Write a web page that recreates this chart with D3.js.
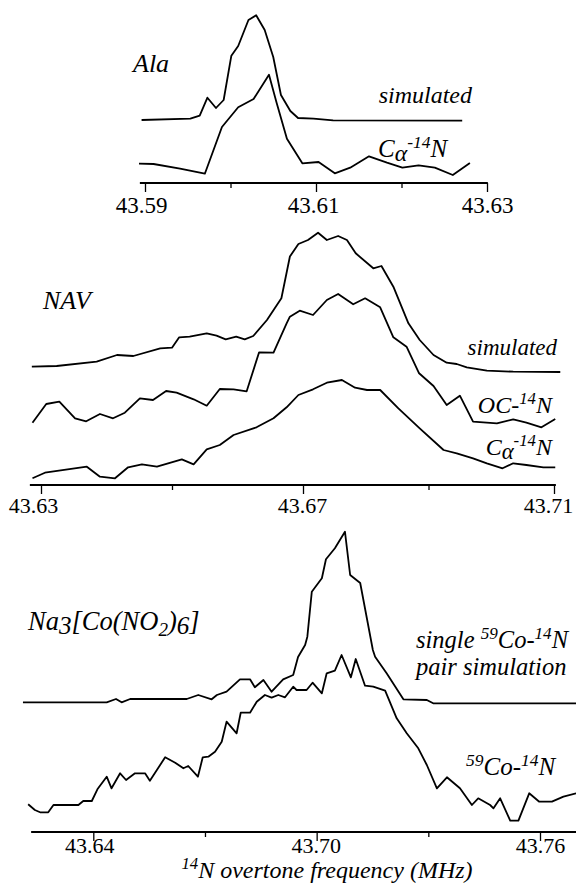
<!DOCTYPE html>
<html>
<head>
<meta charset="utf-8">
<script src="https://cdnjs.cloudflare.com/ajax/libs/d3/7.8.5/d3.min.js"></script>
<style>
  body { margin: 0; background: #fff; }
  svg text, svg tspan { font-family: "Liberation Serif", "DejaVu Serif", serif; fill: #000; }
</style>
</head>
<body>
<svg width="576" height="895"></svg>
<script>
// ---- data: [frequency MHz, intensity a.u.] ----
const alaSim = [[43.5896,63],[43.5953,64.3],[43.5964,67.3],[43.5973,85.3],[43.5983,75],[43.5992,83],
  [43.6001,127.3],[43.6009,137],[43.6021,163],[43.6030,167.7],[43.6040,153],[43.6050,126],[43.6059,88],
  [43.6070,72],[43.6079,65],[43.6097,64.3],[43.6120,62.7],[43.6271,62.3]];
const alaCa = [[43.5893,19.3],[43.5910,19],[43.5941,14.3],[43.5970,9.3],[43.5990,56],[43.6009,75.7],
  [43.6027,84],[43.6045,108.3],[43.6054,80],[43.6066,44.3],[43.6084,19.7],[43.6103,21],[43.6122,9.7],
  [43.6140,15.3],[43.6162,26.7],[43.6183,20.3],[43.6201,15.3],[43.6220,17.7],[43.6239,15.3],[43.6260,8],[43.6280,20]];

const navSim = [[43.6286,118.3],[43.6324,119],[43.6385,123.3],[43.6416,130],[43.6441,129],[43.6482,136.7],
  [43.6500,137.3],[43.6511,147.7],[43.6527,148.3],[43.6553,151.7],[43.6568,149.3],[43.6582,145.7],
  [43.6598,148.3],[43.6611,145.7],[43.6624,149],[43.6645,165],[43.6667,186.7],[43.6680,228.5],
  [43.6693,241],[43.6708,245],[43.6724,252.3],[43.6738,245],[43.6756,249],[43.6770,245],[43.6784,231.7],
  [43.6812,216.7],[43.6825,219],[43.6844,198.3],[43.6868,161.7],[43.6886,145],[43.6908,130],
  [43.6929,122.3],[43.6945,121],[43.6961,117.7],[43.6993,114.3],[43.7035,113.3],[43.7110,113]];
const navOC = [[43.6287,62.3],[43.6308,81],[43.6328,83.3],[43.6352,66.7],[43.6369,63.7],[43.6390,71],
  [43.6410,66.7],[43.6428,72.3],[43.6451,86.7],[43.6471,85],[43.6491,94],[43.6507,92.3],[43.6533,85.7],
  [43.6553,79.3],[43.6573,96],[43.6594,95.7],[43.6614,93.7],[43.6633,132.7],[43.6655,132.3],
  [43.6675,161.7],[43.6680,168.3],[43.6695,174.3],[43.6716,170],[43.6738,185],[43.6756,191],
  [43.6780,180.7],[43.6799,186.7],[43.6823,177.7],[43.6844,147.7],[43.6865,138.3],[43.6885,111.7],
  [43.6908,99],[43.6929,80],[43.6950,89.3],[43.6971,63.3],[43.7009,61.7],[43.7035,65.7],[43.7056,62.3],
  [43.7080,57.7],[43.7102,66]];
const navCa = [[43.6287,6.7],[43.6306,12.3],[43.6370,18.3],[43.6390,8.3],[43.6413,6.7],[43.6433,17.7],
  [43.6454,20.7],[43.6477,18.3],[43.6515,25.7],[43.6533,20.7],[43.6553,35.7],[43.6573,40],[43.6594,50],
  [43.6629,57.7],[43.6655,66.7],[43.6675,77.7],[43.6693,90],[43.6716,95.7],[43.6738,102.3],[43.6762,105],
  [43.6783,97.3],[43.6802,95],[43.6823,95],[43.6852,76.7],[43.6886,56.7],[43.6924,35],[43.6945,31.7],
  [43.6971,26.7],[43.6993,21.7],[43.7018,16.7],[43.7035,21.7],[43.7056,20],[43.7083,17.7],[43.7102,17.7]];

const coSim = [[43.6211,129.7],[43.6436,129.7],[43.6461,133],[43.6476,129.7],[43.6499,133],[43.6651,133],
  [43.6682,137],[43.6718,132.7],[43.6732,137],[43.6758,140.3],[43.6794,152.7],[43.6821,152.7],
  [43.6834,144.7],[43.6857,152],[43.6879,140.3],[43.6910,152.7],[43.6937,157],[43.6950,175],
  [43.6969,187],[43.6975,195.3],[43.6987,240.3],[43.7014,253.7],[43.7025,272.7],[43.7049,283.7],
  [43.7076,300.3],[43.7090,257],[43.7117,249],[43.7151,182],[43.7157,175.3],[43.7188,158.7],
  [43.7233,132.7],[43.7296,132],[43.7313,128.7],[43.7697,128.7]];
const coExp = [[43.6225,27.7],[43.6243,22],[43.6257,19.7],[43.6279,19.7],[43.6293,27],[43.6360,27],
  [43.6373,31],[43.6396,31],[43.6411,42.7],[43.6436,55.3],[43.6449,43.7],[43.6472,58.7],[43.6488,52],
  [43.6512,58.7],[43.6539,58.7],[43.6552,51.3],[43.6593,74.7],[43.6620,69.3],[43.6642,63.7],[43.6655,66],
  [43.6681,55.3],[43.6694,74.7],[43.6709,75.3],[43.6727,80.3],[43.6745,90.3],[43.6758,110.3],
  [43.6785,98.7],[43.6796,119.3],[43.6821,119.3],[43.6839,130.3],[43.6861,137],[43.6879,134.3],
  [43.6897,137],[43.6915,134.7],[43.6937,145.3],[43.6946,142],[43.6973,142],[43.6989,149.3],
  [43.7014,138.7],[43.7027,158.7],[43.7049,161.3],[43.7067,177],[43.7092,154.7],[43.7105,173],
  [43.7130,146.3],[43.7152,145.3],[43.7184,141.3],[43.7215,113.7],[43.7242,98.7],[43.7273,83.7],
  [43.7296,67],[43.7323,43.7],[43.7350,54.7],[43.7385,43.7],[43.7417,27],[43.7434,33.7],[43.7466,27],
  [43.7475,23.7],[43.7493,33.7],[43.7520,11.3],[43.7542,11.3],[43.7571,38.7],[43.7598,30.3],
  [43.7632,30.3],[43.7663,35.3],[43.7697,38.7]];

const alaMajor = [43.59, 43.61, 43.63], alaMinor = [43.60, 43.62];
const navMajor = [43.63, 43.67, 43.71], navMinor = [43.65, 43.69];
const coMajor = [43.64, 43.70, 43.76], coMinor = [43.67, 43.73];

const FONT = "'Liberation Serif', 'DejaVu Serif', serif";
const svg = d3.select("svg");

// italic text with sub/superscript runs
function rich(x, y, anchor, size, parts) {
  const t = svg.append("text").attr("x", x).attr("y", y)
    .attr("font-family", FONT)
    .attr("text-anchor", anchor).attr("font-size", size).attr("font-style", "italic");
  let cur = 0;
  parts.forEach(([s, kind]) => {
    let off = 0, fs = size;
    if (kind === "sup") { off = -0.36 * size; fs = 0.7 * size; }
    if (kind === "sub") { off = 0.22 * size; fs = 0.72 * size; }
    if (kind === "low") { off = 0.15 * size; fs = 0.95 * size; }
    t.append("tspan").attr("dy", off - cur).attr("font-size", fs).text(s);
    cur = off;
  });
  return t;
}

function panel(p) {
  const g = svg.append("g");
  const y0 = p.y(0);
  const line = d3.line().x(d => p.x(d[0])).y(d => p.y(d[1]));
  p.series.forEach(s => {
    g.append("path").datum(s).attr("d", line)
      .attr("fill", "none").attr("stroke", "#000")
      .attr("stroke-width", 1.8).attr("stroke-linejoin", "round");
  });
  g.append("line")
    .attr("x1", p.x(p.extent[0])).attr("x2", p.x(p.extent[1]))
    .attr("y1", y0).attr("y2", y0)
    .attr("stroke", "#000").attr("stroke-width", 2);
  g.append("g").attr("transform", `translate(0,${y0})`)
    .call(d3.axisBottom(p.x).tickValues(p.minor).tickSize(5).tickFormat(""))
    .call(a => a.select(".domain").remove())
    .call(a => a.selectAll("line").attr("stroke-width", 1.3));
  g.append("g").attr("transform", `translate(0,${y0})`)
    .call(d3.axisBottom(p.x).tickValues(p.major).tickSize(9).tickFormat(d3.format(".2f")))
    .attr("font-family", FONT).attr("font-size", p.fs)
    .call(a => a.select(".domain").remove())
    .call(a => a.selectAll("line").attr("stroke-width", 1.3))
    .call(a => a.selectAll("text").attr("y", p.labelY).attr("dy", 0)
      .attr("x", (d, i) => p.labelDx[i]));
}

panel({
  x: d3.scaleLinear().domain([43.59, 43.63]).range([145, 487]),
  y: d3.scaleLinear().domain([0, 170]).range([183, 13]),
  extent: [43.5894, 43.6301], major: alaMajor, minor: alaMinor,
  series: [alaSim, alaCa], fs: 23, labelY: 30, labelDx: [-4, -3, 0]
});
panel({
  x: d3.scaleLinear().domain([43.63, 43.67, 43.71]).range([41, 303, 554]),
  y: d3.scaleLinear().domain([0, 260]).range([485, 225]),
  extent: [43.6283, 43.7103], major: navMajor, minor: navMinor,
  series: [navSim, navOC, navCa], fs: 22, labelY: 28, labelDx: [-8, -1, -6]
});
panel({
  x: d3.scaleLinear().domain([43.64, 43.76]).range([93.3, 540]),
  y: d3.scaleLinear().domain([0, 310]).range([832, 522]),
  extent: [43.6233, 43.78], major: coMajor, minor: coMinor,
  series: [coSim, coExp], fs: 22, labelY: 21, labelDx: [-4, -1, 0]
});

// panel titles
rich(133, 72, "start", 26, [["Ala", "n"]]);
rich(43, 309, "start", 26, [["NAV", "n"]]);
rich(28, 630, "start", 26.5, [["Na", "n"], ["3", "low"], ["[Co(NO", "n"], ["2", "sub"], [")", "n"], ["6", "low"], ["]", "n"]]);

// series labels
rich(472, 103, "end", 24, [["simulated", "n"]]);
rich(378, 157, "start", 25, [["C", "n"], ["α", "low"], ["-14", "sup"], ["N", "n"]]);
rich(557, 355, "end", 23, [["simulated", "n"]]);
rich(552, 413, "end", 24, [["OC-", "n"], ["14", "sup"], ["N", "n"]]);
rich(552, 455, "end", 24, [["C", "n"], ["α", "low"], ["-14", "sup"], ["N", "n"]]);
rich(416, 648, "start", 24.5, [["single ", "n"], ["59", "sup"], ["Co-", "n"], ["14", "sup"], ["N", "n"]]);
rich(416, 675, "start", 24.5, [["pair simulation", "n"]]);
rich(466, 775, "start", 25, [["59", "sup"], ["Co-", "n"], ["14", "sup"], ["N", "n"]]);

// x axis title
rich(327, 878, "middle", 24, [["14", "sup"], ["N overtone frequency (MHz)", "n"]]);
</script>
</body>
</html>
